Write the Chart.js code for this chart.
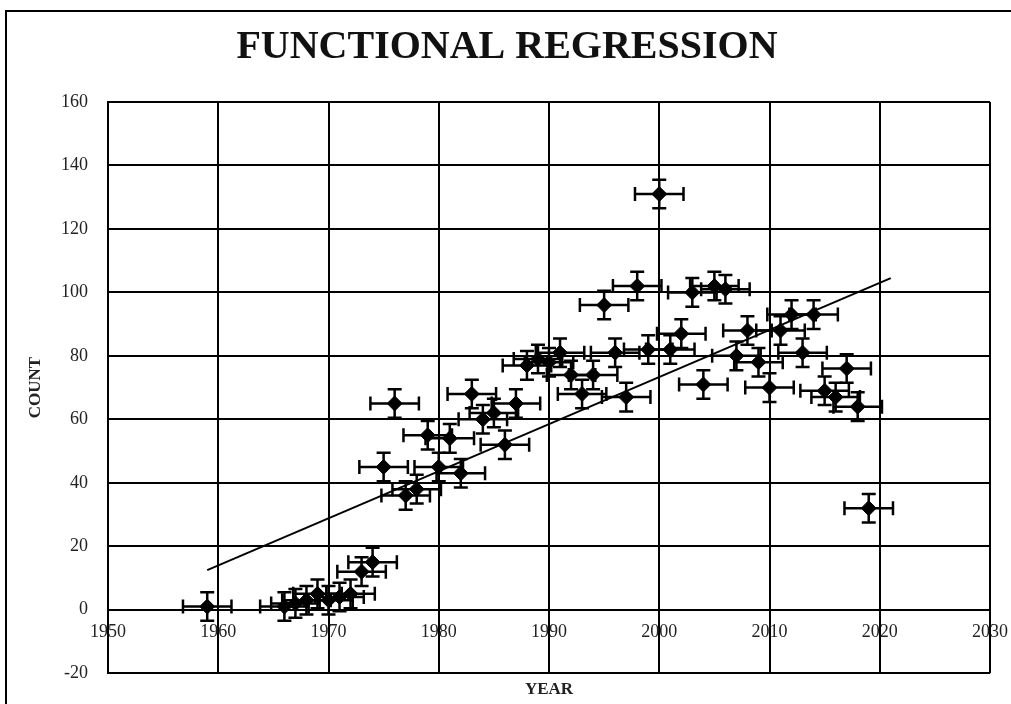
<!DOCTYPE html>
<html>
<head>
<meta charset="utf-8">
<script src="https://cdn.jsdelivr.net/npm/chart.js@4"></script>
<style>
  body { margin: 0; background: #fff; overflow: hidden; }
  #frame { position: absolute; left: 5px; top: 10px; width: 1100px; height: 800px; border: 2px solid #000; }
  #wrap { position: absolute; left: 0; top: 0; width: 1011px; height: 704px; }
</style>
</head>
<body>
<div id="frame"></div>
<div id="wrap"><canvas id="regression" width="1011" height="704"></canvas></div>
<script>
// observations, one per year
const years = [1959, 1966, 1967, 1968, 1969, 1970, 1971, 1972, 1973, 1974,
  1975, 1976, 1977, 1978, 1979, 1980, 1981, 1982, 1983, 1984,
  1985, 1986, 1987, 1988, 1989, 1990, 1991, 1992, 1993, 1994,
  1995, 1996, 1997, 1998, 1999, 2000, 2001, 2002, 2003, 2004,
  2005, 2006, 2007, 2008, 2009, 2010, 2011, 2012, 2013, 2014,
  2015, 2016, 2017, 2018, 2019];
const counts = [1, 1, 2, 3, 5, 3, 4, 5, 12, 15,
  45, 65, 36, 38, 55, 45, 54, 43, 68, 60,
  62, 52, 65, 77, 79, 78, 81, 74, 68, 74,
  96, 81, 67, 102, 82, 131, 82, 87, 100, 71,
  102, 101, 80, 88, 78, 70, 88, 93, 81, 93,
  69, 67, 76, 64, 32];

// error bar half widths
const yearError = 2.2;
const countError = 4.5;

// fitted line end points
const fitYears = [1959, 2021];
const fitCounts = [12.5, 104.5];

const pointData = years.map((x, i) => ({ x: x, y: counts[i] }));
const fitData = fitYears.map((x, i) => ({ x: x, y: fitCounts[i] }));

const errorBars = {
  id: 'errorBars',
  beforeDatasetsDraw(chart) {
    const { ctx, scales: { x, y } } = chart;
    const cap = 7;
    ctx.save();
    ctx.strokeStyle = '#000';
    ctx.lineWidth = 2.5;
    pointData.forEach(p => {
      const px = x.getPixelForValue(p.x);
      const py = y.getPixelForValue(p.y);
      const x1 = x.getPixelForValue(p.x - yearError);
      const x2 = x.getPixelForValue(p.x + yearError);
      const y1 = y.getPixelForValue(p.y + countError);
      const y2 = y.getPixelForValue(p.y - countError);
      ctx.beginPath();
      ctx.moveTo(x1, py); ctx.lineTo(x2, py);
      ctx.moveTo(x1, py - cap); ctx.lineTo(x1, py + cap);
      ctx.moveTo(x2, py - cap); ctx.lineTo(x2, py + cap);
      ctx.moveTo(px, y1); ctx.lineTo(px, y2);
      ctx.moveTo(px - cap, y1); ctx.lineTo(px + cap, y1);
      ctx.moveTo(px - cap, y2); ctx.lineTo(px + cap, y2);
      ctx.stroke();
    });
    ctx.restore();
  }
};

const yearTitle = {
  id: 'yearTitle',
  afterDraw(chart) {
    const { ctx, chartArea } = chart;
    ctx.save();
    ctx.font = 'bold 17px "Liberation Serif"';
    ctx.fillStyle = '#222';
    ctx.textAlign = 'center';
    ctx.textBaseline = 'middle';
    ctx.fillText('YEAR', (chartArea.left + chartArea.right) / 2, chartArea.bottom + 16);
    ctx.restore();
  }
};

new Chart(document.getElementById('regression'), {
  type: 'scatter',
  data: {
    datasets: [
      {
        label: 'Count',
        data: pointData,
        pointStyle: 'rectRot',
        pointRadius: 7.5,
        backgroundColor: '#000',
        borderColor: '#000',
        borderWidth: 1
      },
      {
        type: 'line',
        label: 'Fit',
        data: fitData,
        borderColor: '#000',
        borderWidth: 2,
        pointRadius: 0,
        fill: false
      }
    ]
  },
  options: {
    responsive: false,
    animation: false,
    layout: { padding: { left: 24, right: 21, bottom: 28 } },
    plugins: {
      legend: { display: false },
      tooltip: { enabled: false },
      title: {
        display: true,
        text: 'FUNCTIONAL REGRESSION',
        color: '#111',
        font: { family: 'Liberation Serif', size: 40, weight: 'bold' },
        padding: { top: 24, bottom: 30 }
      }
    },
    scales: {
      x: {
        type: 'linear',
        position: { y: 0 },
        min: 1950,
        max: 2030,
        afterFit: s => { s.paddingLeft = 0; s.paddingRight = 0; },
        grid: { color: '#000', lineWidth: 2, drawTicks: false },
        border: { color: '#000', width: 2 },
        ticks: {
          stepSize: 10,
          padding: 12,
          color: '#222',
          font: { family: 'Liberation Serif', size: 18 },
          callback: v => String(v)
        }
      },
      y: {
        min: -20,
        max: 160,
        afterFit: s => { s.width = 84; },
        grid: { color: '#000', lineWidth: 2, drawTicks: false },
        border: { color: '#000', width: 2 },
        ticks: {
          stepSize: 20,
          padding: 20,
          color: '#222',
          font: { family: 'Liberation Serif', size: 18 }
        },
        title: {
          display: true,
          text: 'COUNT',
          color: '#222',
          font: { family: 'Liberation Serif', size: 17, weight: 'bold' },
          padding: { top: 1 }
        }
      }
    }
  },
  plugins: [errorBars, yearTitle]
});
</script>
</body>
</html>
